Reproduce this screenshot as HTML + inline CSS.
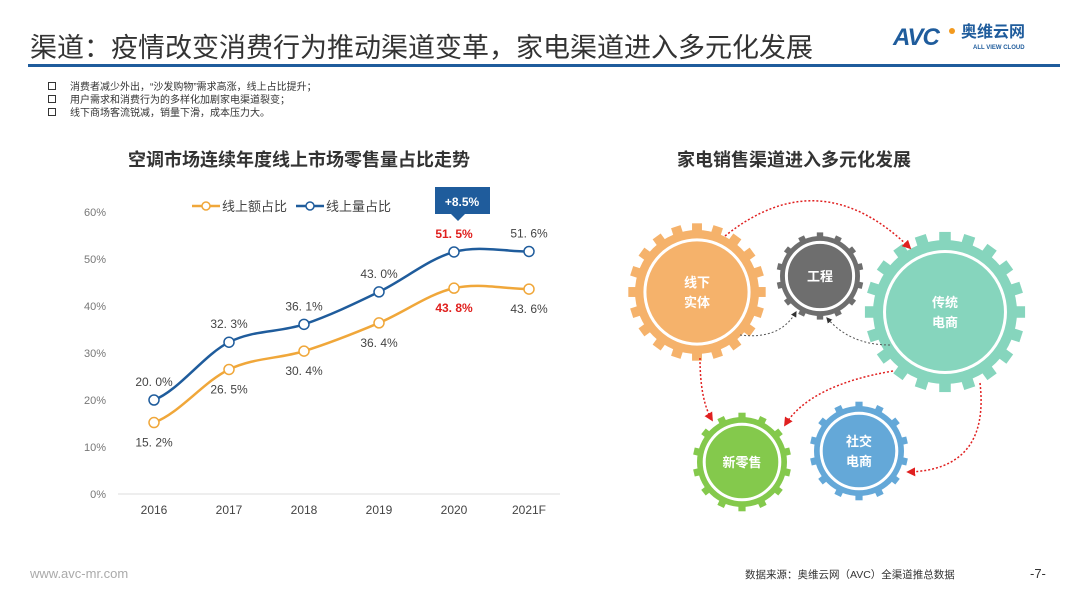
<!DOCTYPE html>
<html><head><meta charset="utf-8">
<style>
body{margin:0;width:1080px;height:608px;background:#fff;overflow:hidden;position:relative;font-family:"Liberation Sans","Noto Sans CJK SC",sans-serif;}
.abs{position:absolute;}
</style></head>
<body>
<div class="abs" style="left:30px;top:26px;font-size:27px;color:#333;white-space:nowrap;">渠道：疫情改变消费行为推动渠道变革，家电渠道进入多元化发展</div>
<div class="abs" style="left:28px;top:64px;width:1032px;height:3px;background:#1f5c9c;"></div>
<div class="abs" style="left:893px;top:24px;width:160px;height:30px;">
  <span style="position:absolute;left:0;top:0;font:italic bold 24px 'Liberation Sans',sans-serif;color:#1f5c9c;letter-spacing:-1px;">AVC</span>
  <span style="position:absolute;left:56px;top:4px;width:6px;height:6px;border-radius:50%;background:#f39a1e;"></span>
  <span style="position:absolute;left:68px;top:0px;font-size:16px;line-height:18px;font-weight:bold;color:#1f5c9c;font-family:'Liberation Sans','Noto Sans CJK SC',sans-serif;">奥维云网</span>
  <span style="position:absolute;left:80px;top:21px;font-size:6px;line-height:7px;font-weight:bold;color:#1f5c9c;">ALL VIEW CLOUD</span>
</div>
<div class="abs" style="left:48px;top:81px;font-size:10px;color:#333;line-height:13px;">
  <div><span style="display:inline-block;width:6px;height:6px;border:1.5px solid #333;margin-right:14px;"></span>消费者减少外出，“沙发购物”需求高涨，线上占比提升；</div>
  <div><span style="display:inline-block;width:6px;height:6px;border:1.5px solid #333;margin-right:14px;"></span>用户需求和消费行为的多样化加剧家电渠道裂变；</div>
  <div><span style="display:inline-block;width:6px;height:6px;border:1.5px solid #333;margin-right:14px;"></span>线下商场客流锐减，销量下滑，成本压力大。</div>
</div>
<div class="abs" style="left:128px;top:146px;font-size:18px;font-weight:bold;color:#333;">空调市场连续年度线上市场零售量占比走势</div>
<div class="abs" style="left:677px;top:146px;font-size:18px;font-weight:bold;color:#333;">家电销售渠道进入多元化发展</div>

<svg class="abs" style="left:0;top:0" width="1080" height="608" id="chart"></svg>

<svg class="abs" style="left:0;top:0" width="1080" height="608" id="gears">
<defs><marker id="ar" viewBox="0 0 10 10" refX="8" refY="5" markerWidth="6" markerHeight="6" orient="auto"><path d="M0,0L10,5L0,10z" fill="#e02020"/></marker>
<marker id="ag" viewBox="0 0 10 10" refX="8" refY="5" markerWidth="6" markerHeight="6" orient="auto"><path d="M0,0L10,5L0,10z" fill="#333"/></marker></defs>
<path d="M725,236 Q820,160 910,248" fill="none" stroke="#e02020" stroke-width="1.5" stroke-dasharray="2,2" marker-end="url(#ar)"/>
<path d="M700,358 Q700,400 712,420" fill="none" stroke="#e02020" stroke-width="1.5" stroke-dasharray="2,2" marker-end="url(#ar)"/>
<path d="M893,371 Q810,385 785,425" fill="none" stroke="#e02020" stroke-width="1.5" stroke-dasharray="2,2" marker-end="url(#ar)"/>
<path d="M980,383 Q990,470 908,472" fill="none" stroke="#e02020" stroke-width="1.5" stroke-dasharray="2,2" marker-end="url(#ar)"/>
<path d="M740,335 Q780,340 796,312" fill="none" stroke="#555" stroke-width="1" stroke-dasharray="2,2" marker-end="url(#ag)"/>
<path d="M890,345 Q850,345 827,318" fill="none" stroke="#555" stroke-width="1" stroke-dasharray="2,2" marker-end="url(#ag)"/>
</svg>

<div class="abs" style="left:30px;top:566px;font-size:13px;color:#aaa;">www.avc-mr.com</div>
<div class="abs" style="left:745px;top:567px;font-size:10.5px;color:#333;">数据来源：奥维云网（AVC）全渠道推总数据</div>
<div class="abs" style="left:1030px;top:566px;font-size:13px;color:#333;">-7-</div>

<script>
const categories=["2016","2017","2018","2019","2020","2021F"];
const valueShare=[15.2,26.5,30.4,36.4,43.8,43.6];
const volumeShare=[20.0,32.3,36.1,43.0,51.5,51.6];
const yTicks=[0,10,20,30,40,50,60];
const NS="http://www.w3.org/2000/svg";
const svg=document.getElementById('chart');
const x=i=>154+i*75;
const y=v=>494-v*4.7;
function mk(t,a,p){const e=document.createElementNS(NS,t);for(const k in a)e.setAttribute(k,a[k]);(p||svg).appendChild(e);return e;}
mk('line',{x1:118,x2:560,y1:494,y2:494,stroke:'#ddd'});
yTicks.forEach(v=>{const t=mk('text',{x:106,y:y(v)+4,'text-anchor':'end','font-size':11,fill:'#777'});t.textContent=v+'%';

});
categories.forEach((c,i)=>{const t=mk('text',{x:x(i),y:514,'text-anchor':'middle','font-size':12,fill:'#444'});t.textContent=c;

});
function smooth(vals){let d='M'+x(0)+','+y(vals[0]);for(let i=1;i<vals.length;i++){const x0=x(i-1),y0=y(vals[i-1]),x1=x(i),y1=y(vals[i]);const pm=i>1?vals[i-2]:vals[i-1],nx=i<vals.length-1?vals[i+1]:vals[i];const c1y=y0+(y1-y(pm))/6;const c2y=y1-(y(nx)-y0)/6;d+=` C${x0+25},${c1y} ${x1-25},${c2y} ${x1},${y1}`;}return d;}
function series(vals,color,name,below){
 const p=mk('path',{d:smooth(vals),fill:'none',stroke:color,'stroke-width':2.5});
 
 
 vals.forEach((v,i)=>{const c=mk('circle',{cx:x(i),cy:y(v),r:5,fill:'#fff',stroke:color,'stroke-width':1.5});
 
 
 const red=i===4;const t=mk('text',{x:x(i),y:below?y(v)+24:y(v)-14,'text-anchor':'middle','font-size':12,fill:red?'#e0201e':'#444','font-weight':red?'bold':'normal'});t.textContent=v.toFixed(1).replace('.', '. ')+'%';
 
 });
}
series(valueShare,'#f0a73a','value-share',true);
series(volumeShare,'#1f5c9c','volume-share',false);
const lg=[['#f0a73a','线上额占比',192],['#1f5c9c','线上量占比',296]];
lg.forEach(l=>{const g=mk('g',{});
mk('line',{x1:l[2],x2:l[2]+28,y1:206,y2:206,stroke:l[0],'stroke-width':2.5},g);
mk('circle',{cx:l[2]+14,cy:206,r:4,fill:'#fff',stroke:l[0],'stroke-width':1.5},g);
const t=mk('text',{x:l[2]+30,y:211,'font-size':13,fill:'#444'},g);t.textContent=l[1];});
const g=mk('g',{});
mk('rect',{x:435,y:187,width:55,height:27,fill:'#1f5c9c'},g);
mk('path',{d:'M451,214 L458,221 L465,214z',fill:'#1f5c9c'},g);
const ct=mk('text',{x:462,y:206,'text-anchor':'middle','font-size':12,'font-weight':'bold',fill:'#fff'},g);ct.textContent='+8.5%';

const gs=document.getElementById('gears');
const gearsData=[[697,292,62,'#f5b26b',['线下','实体']],[820,276,40,'#6e6e6e',['工程']],[945,312,72,'#86d5bd',['传统','电商']],[742,462,45,'#84c94c',['新零售']],[859,451,45,'#64a8d8',['社交','电商']]];
const names=['gear-offline','gear-engineering','gear-traditional-ecommerce','gear-new-retail','gear-social-ecommerce'];
gearsData.forEach((d,k)=>{const [cx,cy,r,col,lab]=d;const gg=document.createElementNS(NS,'g');gs.insertBefore(gg,gs.firstChild.nextSibling);


const n=r>60?20:14;const tw=r*0.16,th=r*0.14;
for(let i=0;i<n;i++){mk('rect',{x:cx-tw/2,y:cy-r-th+2,width:tw,height:th,fill:col,transform:`rotate(${i*360/n} ${cx} ${cy})`},gg);}
mk('circle',{cx,cy,r,fill:col},gg);
mk('circle',{cx,cy,r:r*0.84,fill:col,stroke:'#fff','stroke-width':3},gg);
lab.forEach((s,j)=>{const t=mk('text',{x:cx,y:cy+5+(j-(lab.length-1)/2)*20,'text-anchor':'middle','font-size':13,'font-weight':'bold',fill:'#fff'},gg);t.textContent=s;});
});
</script>
</body></html>
